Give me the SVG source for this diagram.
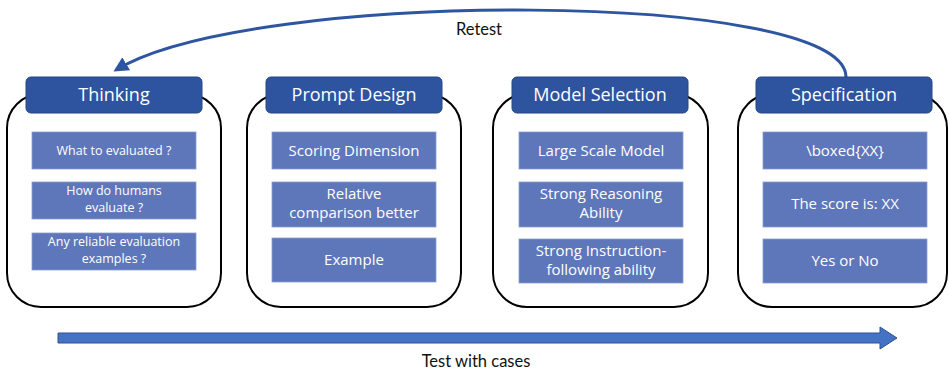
<svg xmlns="http://www.w3.org/2000/svg" width="949" height="373" viewBox="0 0 949 373">
<defs>
<marker id="ah" viewBox="0 0 10 10" refX="8" refY="5" markerWidth="5" markerHeight="5" orient="auto" markerUnits="strokeWidth">
<path d="M0,0 L10,5 L0,10 Z" fill="#2E55A0"/>
</marker>
<style>
.outer{fill:#fff;stroke:#000;stroke-width:2}
.hdr{fill:#2E54A0;stroke:#24467F;stroke-width:1}
.hdrt{fill:#fff;font-family:"Open Sans",Lato,sans-serif;font-size:18px;text-anchor:middle}
.box{fill:#5E76BA;stroke:#8A9DD0;stroke-width:0.8}
.bt{fill:#fff;font-family:"Open Sans",Lato,sans-serif;font-size:15px;text-anchor:middle}
.bs{font-size:12.5px}
.lbl{fill:#111;font-family:Lato,"Open Sans",sans-serif;font-size:16.5px;text-anchor:middle}
</style>
</defs>
<rect width="949" height="373" fill="#fff"/>

<g id="connectors">
<path d="M846,77 C846,-10 250,-12 116,70" fill="none" stroke="#2E55A0" stroke-width="3" marker-end="url(#ah)"/>
<text class="lbl" x="479" y="35">Retest</text>
<path d="M58,333 L880,333 L880,327 L897,338 L880,349 L880,343 L58,343 Z" fill="#4472C4" stroke="#2F528F" stroke-width="1"/>
<text class="lbl" x="476" y="367">Test with cases</text>
</g>

<g id="thinking">
<rect class="outer" x="7" y="94" width="214" height="213" rx="34"/>
<rect class="hdr" x="26" y="77" width="176" height="36" rx="5"/>
<text class="hdrt" x="114" y="101">Thinking</text>
<rect class="box" x="32" y="132" width="164" height="37"/>
<text class="bt bs" x="114" y="155">What to evaluated ?</text>
<rect class="box" x="32" y="182" width="164" height="37"/>
<text class="bt bs" x="114" y="195">How do humans</text>
<text class="bt bs" x="114" y="211.5">evaluate ?</text>
<rect class="box" x="32" y="233" width="164" height="37"/>
<text class="bt bs" x="114" y="246">Any reliable evaluation</text>
<text class="bt bs" x="114" y="262.5">examples ?</text>
</g>

<g id="prompt-design">
<rect class="outer" x="247" y="94" width="214" height="213" rx="34"/>
<rect class="hdr" x="266" y="77" width="176" height="36" rx="5"/>
<text class="hdrt" x="354" y="101">Prompt Design</text>
<rect class="box" x="272" y="132" width="164" height="37"/>
<text class="bt" x="354" y="156">Scoring Dimension</text>
<rect class="box" x="272" y="182" width="164" height="45"/>
<text class="bt" x="354" y="199">Relative</text>
<text class="bt" x="354" y="218">comparison better</text>
<rect class="box" x="272" y="238" width="164" height="44"/>
<text class="bt" x="354" y="265">Example</text>
</g>

<g id="model-selection">
<rect class="outer" x="493" y="94" width="215" height="213" rx="34"/>
<rect class="hdr" x="512" y="77" width="176" height="36" rx="5"/>
<text class="hdrt" x="600" y="101">Model Selection</text>
<rect class="box" x="519" y="132" width="164" height="37"/>
<text class="bt" x="601" y="156">Large Scale Model</text>
<rect class="box" x="519" y="182" width="164" height="45"/>
<text class="bt" x="601" y="199">Strong Reasoning</text>
<text class="bt" x="601" y="218">Ability</text>
<rect class="box" x="519" y="239" width="164" height="44"/>
<text class="bt" x="601" y="256">Strong Instruction-</text>
<text class="bt" x="601" y="275">following ability</text>
</g>

<g id="specification">
<rect class="outer" x="738" y="94" width="209" height="213" rx="34"/>
<rect class="hdr" x="756" y="77" width="176" height="36" rx="5"/>
<text class="hdrt" x="844" y="101">Specification</text>
<rect class="box" x="763" y="132" width="164" height="37"/>
<text class="bt" x="845" y="156">\boxed{XX}</text>
<rect class="box" x="763" y="182" width="164" height="45"/>
<text class="bt" x="845" y="209">The score is: XX</text>
<rect class="box" x="763" y="239" width="164" height="44"/>
<text class="bt" x="845" y="266">Yes or No</text>
</g>
</svg>
